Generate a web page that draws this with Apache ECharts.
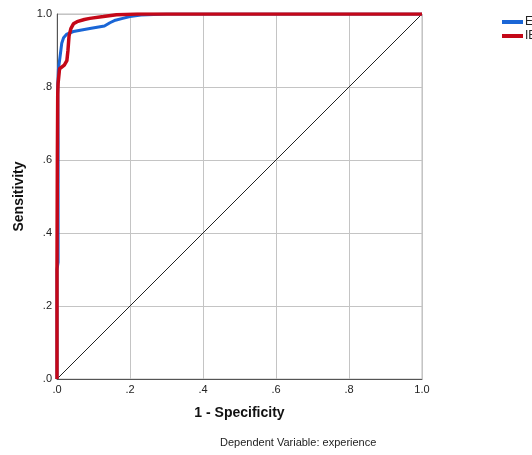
<!DOCTYPE html>
<html>
<head>
<meta charset="utf-8">
<script src="https://cdn.jsdelivr.net/npm/echarts@6/dist/echarts.min.js"></script>
<style>
  html, body { margin: 0; padding: 0; background: #fff; }
  #chart { width: 532px; height: 455px; }
</style>
</head>
<body>
<div id="chart"></div>
<script>
'use strict';

// ROC points: [1 - specificity, sensitivity]
const rocE = [
  [0, 0], [0, 0.3], [0.003, 0.32], [0.003, 0.65], [0.002, 0.8], [0.004, 0.85],
  [0.008, 0.88], [0.013, 0.92], [0.018, 0.935], [0.027, 0.945], [0.045, 0.952],
  [0.09, 0.96], [0.13, 0.967], [0.145, 0.976], [0.16, 0.983], [0.18, 0.988],
  [0.2, 0.993], [0.23, 0.997], [0.3, 1], [1, 1]
]
const rocIE = [
  [0, 0], [0, 0.3], [0.001, 0.6], [0.002, 0.78], [0.003, 0.81], [0.006, 0.815],
  [0.007, 0.85], [0.012, 0.855], [0.02, 0.86], [0.027, 0.872], [0.03, 0.9],
  [0.033, 0.94], [0.038, 0.96], [0.045, 0.973], [0.055, 0.979], [0.075, 0.985],
  [0.09, 0.988], [0.127, 0.993], [0.163, 0.998], [0.22, 1], [1, 1]
]
const refLine = [[0, 0], [1, 1]]
const seriesNames = ['E', 'IE']
const tickStep = 0.2

const font = "'Liberation Sans', Arial, sans-serif"
const fmtTick = v => v.toFixed(1).replace(/^0/, '')

var chart = echarts.init(document.getElementById('chart'))
const option = {
  animation: false,
  textStyle: { fontFamily: font },
  grid: {
    left: 57, right: 110, top: 14, bottom: 76,
    show: true, borderColor: '#bdbdbd', borderWidth: 1
  },
  legend: {
    data: seriesNames.map(n => ({ name: n, icon: 'rect' })),
    orient: 'vertical',
    left: 497, top: 11,
    itemWidth: 21, itemHeight: 4, itemGap: 2,
    textStyle: { fontSize: 12, color: '#222', fontFamily: font, padding: [0, 0, 0, -3] }
  },
  xAxis: {
    type: 'value', min: 0, max: 1, interval: tickStep,
    name: '1 - Specificity', nameLocation: 'middle', nameGap: 27,
    nameTextStyle: { fontSize: 14, fontWeight: 'bold', color: '#111' },
    axisLine: { show: true, onZero: false, lineStyle: { color: '#555' } },
    axisTick: { show: false },
    axisLabel: { formatter: fmtTick, fontSize: 11, color: '#222', margin: 5 },
    splitLine: { lineStyle: { color: '#c4c4c4' } }
  },
  yAxis: {
    type: 'value', min: 0, max: 1, interval: tickStep,
    name: 'Sensitivity', nameLocation: 'middle', nameGap: 31,
    nameTextStyle: { fontSize: 14, fontWeight: 'bold', color: '#111' },
    axisLine: { show: true, onZero: false, lineStyle: { color: '#555' } },
    axisTick: { show: false },
    axisLabel: { formatter: fmtTick, fontSize: 11, color: '#222', margin: 5 },
    splitLine: { lineStyle: { color: '#c4c4c4' } }
  },
  graphic: [{
    type: 'text', left: 220, top: 437,
    style: { text: 'Dependent Variable: experience', fontSize: 11, fill: '#222', font: '11px ' + font }
  }],
  series: [
    {
      name: 'ref', type: 'line', data: refLine, symbol: 'none', silent: true,
      lineStyle: { color: '#222', width: 1 }, z: 1
    },
    {
      name: 'E', type: 'line', data: rocE, symbol: 'none',
      itemStyle: { color: '#1a66d6' },
      lineStyle: { color: '#1a66d6', width: 3 }, z: 2
    },
    {
      name: 'IE', type: 'line', data: rocIE, symbol: 'none',
      itemStyle: { color: '#c40818' },
      lineStyle: { color: '#c40818', width: 3.5 }, z: 3
    }
  ]
}
chart.setOption(option)
</script>
</body>
</html>
